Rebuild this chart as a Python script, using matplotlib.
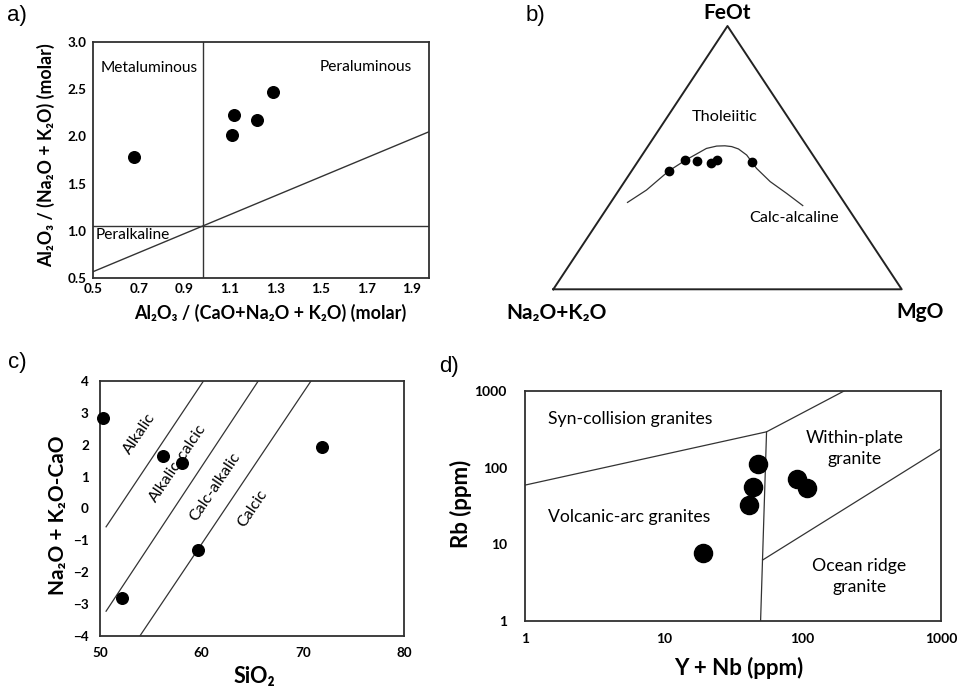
import matplotlib
matplotlib.use("Agg")
import matplotlib.pyplot as plt
import numpy as np

plt.rcParams['font.family'] = ['Lato', 'DejaVu Sans']

# --- a) A/CNK vs A/NK
acnk = [0.68, 1.11, 1.12, 1.22, 1.29]
ank = [1.78, 2.02, 2.23, 2.18, 2.47]
a_vline = 0.98
a_hline = 1.05
a_diag_x = [0.5, 1.975]
a_diag_y = [0.565, 2.05]

# --- b) AFM ternary (percent)
b_alk = [44.3, 37.6, 34.3, 30.7, 28.6, 18.8]
b_feo = [45.0, 49.0, 48.7, 48.1, 49.0, 48.3]
b_mgo = [10.7, 13.4, 17.0, 21.2, 22.4, 32.9]
curve_feo = [33.0, 37.7, 45.0, 49.0, 53.5, 54.4, 54.5, 54.2, 53.3, 51.0, 45.9, 40.9, 36.4, 31.8]
curve_mgo = [4.8, 7.9, 10.7, 13.4, 17.2, 19.7, 22.0, 24.1, 26.5, 30.0, 35.4, 41.8, 48.8, 55.7]

# --- c) MALI vs SiO2
sio2 = [50.3, 56.2, 58.1, 71.9, 59.7, 52.2]
mali = [2.85, 1.65, 1.43, 1.93, -1.31, -2.81]
c_lines = [([50.6, 60.2], [-0.58, 4.0]),
           ([50.6, 65.6], [-3.23, 4.0]),
           ([53.95, 70.8], [-4.0, 4.0])]
c_names = ['Alkalic', 'Alkalic-calcic', 'Calc-alkalic', 'Calcic']
c_name_x = [53.9, 57.7, 61.3, 65.0]
c_name_y = [2.36, 1.41, 0.68, -0.02]

# --- d) Pearce Rb vs Y+Nb
ynb = [47.6, 43.8, 41.4, 19.3, 91.9, 108.4]
rb = [110, 56, 32.7, 7.6, 70, 54.5]
d_syn_x = [1, 55.2, 200]
d_syn_y = [59, 293, 1000]
d_vert_x = [55.2, 50]
d_vert_y = [293, 1]
d_org_x = [51.7, 982]
d_org_y = [6.2, 173]

W, H = 965, 688
fig = plt.figure(figsize=(W / 100, H / 100), dpi=100)


def add_ax(l, t, r, b):
    return fig.add_axes([l / W, 1 - b / H, (r - l) / W, (b - t) / H])


LC = '#333333'
ax_a = add_ax(93.3, 42.3, 429, 277.7)
ax_b = add_ax(553.3, 26, 901.7, 289.3)
ax_c = add_ax(100, 381, 404.3, 635.7)
ax_d = add_ax(525, 391, 941, 620.7)

for ax in (ax_a, ax_c, ax_d):
    for s in ax.spines.values():
        s.set_linewidth(1.3)
        s.set_color('#303030')

# panel a
ax_a.axvline(a_vline, color=LC, lw=1)
ax_a.axhline(a_hline, color=LC, lw=1)
ax_a.plot(a_diag_x, a_diag_y, color=LC, lw=1)
ax_a.scatter(acnk, ank, s=70, color='black', zorder=3)
ax_a.set_xlim(0.5, 1.975)
ax_a.set_ylim(0.5, 3.0)
xt = [0.5, 0.7, 0.9, 1.1, 1.3, 1.5, 1.7, 1.9]
ax_a.set_xticks(xt, [f'{v:.1f}' for v in xt])
yt = [0.5, 1.0, 1.5, 2.0, 2.5, 3.0]
ax_a.set_yticks(yt, [f'{v:.1f}' for v in yt])
ax_a.tick_params(length=0, labelsize=9.7)
ax_a.tick_params(axis='y', pad=5)
ax_a.tick_params(axis='x', pad=3.5)
for lab in ax_a.get_xticklabels() + ax_a.get_yticklabels():
    lab.set_fontweight('bold')
ax_a.set_xlabel('Al₂O₃ / (CaO+Na₂O + K₂O) (molar)', fontsize=13, fontweight='bold', va='center')
ax_a.set_ylabel('Al₂O₃ / (Na₂O + K₂O) (molar)', fontsize=12.8, fontweight='bold', va='center')
ax_a.xaxis.set_label_coords(0.526, -0.150)
ax_a.yaxis.set_label_coords(-0.141, 0.521)
ax_a.text(0.53, 2.725, 'Metaluminous', fontsize=11.2, va='center')
ax_a.text(1.9, 2.74, 'Peraluminous', fontsize=11.2, va='center', ha='right')
ax_a.text(0.51, 0.95, 'Peralkaline', fontsize=11.2, va='center')


# panel b
def tern(alk, feo, mgo):
    alk, feo, mgo = map(np.asarray, (alk, feo, mgo))
    tot = alk + feo + mgo
    f = feo / tot
    return mgo / tot + f / 2, f


ax_b.axis('off')
ax_b.set_xlim(0, 1)
ax_b.set_ylim(0, 1)
tx, ty = tern([100, 0, 0, 100], [0, 100, 0, 0], [0, 0, 100, 0])
ax_b.plot(tx, ty, color='#222222', lw=1.4, clip_on=False)
curve_alk = [100 - f - m for f, m in zip(curve_feo, curve_mgo)]
cx, cy = tern(curve_alk, curve_feo, curve_mgo)
ax_b.plot(cx, cy, color=LC, lw=0.9)
px, py = tern(b_alk, b_feo, b_mgo)
ax_b.scatter(px, py, s=36, color='black', zorder=3)
ax_b.text(0.491, 0.656, 'Tholeiitic', fontsize=11.7, ha='center', va='center')
ax_b.text(0.692, 0.272, 'Calc-alcaline', fontsize=11.7, ha='center', va='center')
ax_b.text(0.498, 1.05, 'FeOt', fontsize=15, fontweight='bold', ha='center', va='center')
ax_b.text(0.01, -0.091, 'Na₂O+K₂O', fontsize=15, fontweight='bold', ha='center', va='center')
ax_b.text(1.052, -0.087, 'MgO', fontsize=15, fontweight='bold', ha='center', va='center')

# panel c
for lx, ly in c_lines:
    ax_c.plot(lx, ly, color=LC, lw=0.9)
ax_c.scatter(sio2, mali, s=70, color='black', zorder=3, clip_on=False)
for name, x, y in zip(c_names, c_name_x, c_name_y):
    ax_c.text(x, y, name, fontsize=11.5, rotation=56, ha='center', va='center', rotation_mode='anchor')
ax_c.set_xlim(50, 80)
ax_c.set_ylim(-4, 4)
ax_c.set_xticks([50, 60, 70, 80])
ax_c.set_yticks(range(-4, 5))
ax_c.tick_params(length=0, labelsize=9.7)
ax_c.tick_params(axis='y', pad=8)
ax_c.tick_params(axis='x', pad=8)
for lab in ax_c.get_xticklabels() + ax_c.get_yticklabels():
    lab.set_fontweight('bold')
ax_c.set_xlabel('SiO₂', fontsize=15.5, fontweight='bold', va='center')
ax_c.set_ylabel('Na₂O + K₂O-CaO', fontsize=15, fontweight='bold', va='center')
ax_c.xaxis.set_label_coords(0.509, -0.161)
ax_c.yaxis.set_label_coords(-0.138, 0.474)

# panel d
ax_d.set_xscale('log')
ax_d.set_yscale('log')
ax_d.plot(d_syn_x, d_syn_y, color=LC, lw=0.9)
ax_d.plot(d_vert_x, d_vert_y, color=LC, lw=0.9)
ax_d.plot(d_org_x, d_org_y, color=LC, lw=0.9)
ax_d.scatter(ynb, rb, s=170, color='black', zorder=3)
ax_d.set_xlim(1, 1000)
ax_d.set_ylim(1, 1000)
dt = [1, 10, 100, 1000]
ax_d.set_xticks(dt, [str(v) for v in dt])
ax_d.set_yticks(dt, [str(v) for v in dt])
ax_d.minorticks_off()
ax_d.tick_params(length=0, labelsize=10)
ax_d.tick_params(axis='y', pad=13)
ax_d.tick_params(axis='x', pad=9)
for lab in ax_d.get_xticklabels() + ax_d.get_yticklabels():
    lab.set_fontweight('bold')
ax_d.set_xlabel('Y + Nb (ppm)', fontsize=16, fontweight='bold', va='center')
ax_d.set_ylabel('Rb (ppm)', fontsize=16, fontweight='bold', va='center')
ax_d.xaxis.set_label_coords(0.513, -0.207)
ax_d.yaxis.set_label_coords(-0.154, 0.51)
ax_d.text(1.47, 426, 'Syn-collision granites', fontsize=12.7, va='center')
ax_d.text(1.46, 22.4, 'Volcanic-arc granites', fontsize=12.7, va='center')
ax_d.text(237, 178, 'Within-plate\ngranite', fontsize=12.7, ha='center', va='center', linespacing=1.4)
ax_d.text(257, 3.75, 'Ocean ridge\ngranite', fontsize=12.7, ha='center', va='center', linespacing=1.4)

# panel letters
for letter, x, y in [('a)', 17, 15), ('b)', 535, 15), ('c)', 17, 362), ('d)', 449, 367)]:
    fig.text(x / W, 1 - y / H, letter, fontsize=16, ha='center', va='center',
             family=['Liberation Sans', 'DejaVu Sans'])

fig.savefig('out.png', dpi=100)
